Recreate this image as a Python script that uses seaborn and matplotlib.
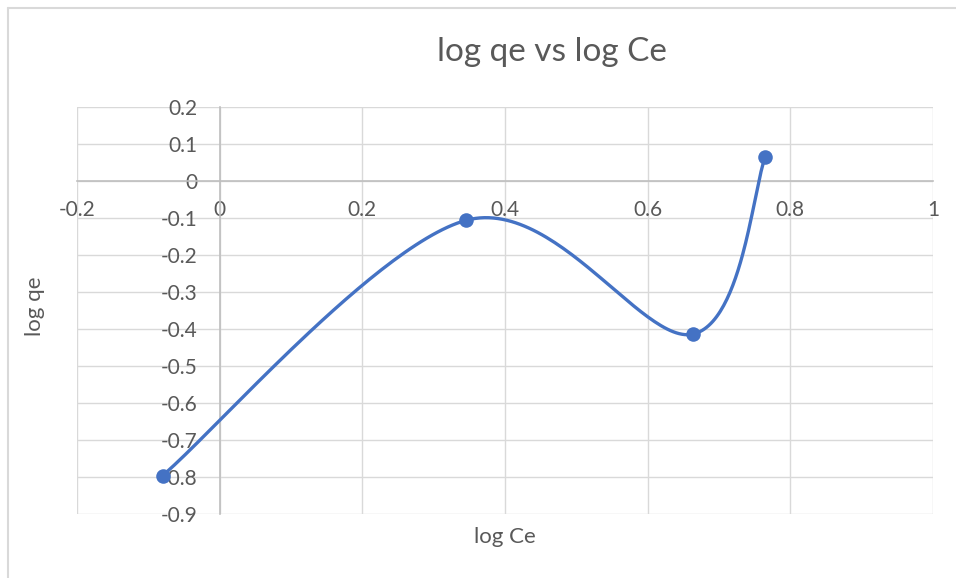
import numpy as np
import pandas as pd
import matplotlib
matplotlib.use("Agg")
import matplotlib.pyplot as plt
from matplotlib.lines import Line2D
import seaborn as sns

# Freundlich isotherm data (log-log)
log_ce = [-0.080, 0.346, 0.663, 0.765]
log_qe = [-0.796, -0.106, -0.414, 0.065]

x_ticks = [-0.2, 0, 0.2, 0.4, 0.6, 0.8, 1]
x_tick_labels = ["-0.2", "0", "0.2", "0.4", "0.6", "0.8", "1"]
y_ticks = [0.2, 0.1, 0, -0.1, -0.2, -0.3, -0.4, -0.5, -0.6, -0.7, -0.8, -0.9]
y_tick_labels = ["0.2", "0.1", "0", "-0.1", "-0.2", "-0.3", "-0.4", "-0.5",
                 "-0.6", "-0.7", "-0.8", "-0.9"]

title = "log qe vs log Ce"
x_label = "log Ce"
y_label = "log qe"

BLUE = "#4472C4"
TEXT = "#595959"
GRID = "#d9d9d9"
AXIS = "#bfbfbf"


def smooth_curve(xs, ys, samples=60):
    """Cardinal (Catmull-Rom style) Bezier smoothing through the points."""
    pts = np.column_stack([xs, ys]).astype(float)
    n = len(pts)
    out = []
    t = np.linspace(0, 1, samples)[:, None]
    for i in range(n - 1):
        p_prev = pts[i - 1] if i > 0 else pts[i]
        p_next = pts[i + 2] if i + 2 < n else pts[i + 1]
        b0 = pts[i]
        b3 = pts[i + 1]
        b1 = b0 + (b3 - p_prev) / 6.0
        b2 = b3 - (p_next - b0) / 6.0
        seg = ((1 - t) ** 3) * b0 + 3 * ((1 - t) ** 2) * t * b1 \
            + 3 * (1 - t) * t ** 2 * b2 + t ** 3 * b3
        out.append(seg if i == 0 else seg[1:])
    return np.vstack(out)


sns.set_theme(style="white")
plt.rcParams["font.family"] = ["Lato", "DejaVu Sans"]

fig = plt.figure(figsize=(9.56, 5.78), dpi=100)
W, H = 956, 578
ax = fig.add_axes([77 / W, 1 - 514 / H, (933 - 77) / W, (514 - 107) / H])

curve = smooth_curve(log_ce, log_qe)
df_curve = pd.DataFrame({"x": curve[:, 0], "y": curve[:, 1]})
df_pts = pd.DataFrame({"x": log_ce, "y": log_qe})

sns.lineplot(data=df_curve, x="x", y="y", sort=False, estimator=None,
             color=BLUE, linewidth=2.4, ax=ax, zorder=3)
sns.scatterplot(data=df_pts, x="x", y="y", color=BLUE, s=110,
                edgecolor=BLUE, linewidth=0, ax=ax, zorder=4)

ax.set_xlim(-0.2, 1.0)
ax.set_ylim(-0.9, 0.2)
ax.set_xticks(x_ticks)
ax.set_xticklabels(x_tick_labels)
ax.set_yticks(y_ticks)
ax.set_yticklabels(y_tick_labels)

ax.grid(True, color=GRID, linewidth=1.0)
ax.set_axisbelow(True)

# Axes cross at the origin
for side in ("top", "right"):
    ax.spines[side].set_visible(False)
ax.spines["left"].set_position(("data", 0))
ax.spines["bottom"].set_position(("data", 0))
ax.spines["left"].set_color(AXIS)
ax.spines["bottom"].set_color(AXIS)
ax.spines["left"].set_linewidth(1.2)
ax.spines["bottom"].set_linewidth(1.2)
ax.spines["left"].set_zorder(2)
ax.spines["bottom"].set_zorder(2)

ax.tick_params(axis="x", length=0, pad=14, labelsize=15, labelcolor=TEXT)
ax.tick_params(axis="y", length=0, pad=16, labelsize=15, labelcolor=TEXT)
ax.set_xlabel("")
ax.set_ylabel("")

fig.text(552 / W, 1 - 52 / H, title, ha="center", va="center",
         fontsize=24, color=TEXT)
fig.text(505 / W, 1 - 537 / H, x_label, ha="center", va="center",
         fontsize=16, color=TEXT)
fig.text(35 / W, 1 - 306 / H, y_label, ha="center", va="center",
         rotation=90, fontsize=16, color=TEXT)

# Chart area border
fig.add_artist(Line2D([8 / W, 8 / W], [0, 1 - 8 / H], color=GRID,
                      linewidth=1.5, transform=fig.transFigure))
fig.add_artist(Line2D([8 / W, 1], [1 - 8 / H, 1 - 8 / H], color=GRID,
                      linewidth=1.5, transform=fig.transFigure))

fig.savefig("out.png", dpi=100, facecolor="white")
